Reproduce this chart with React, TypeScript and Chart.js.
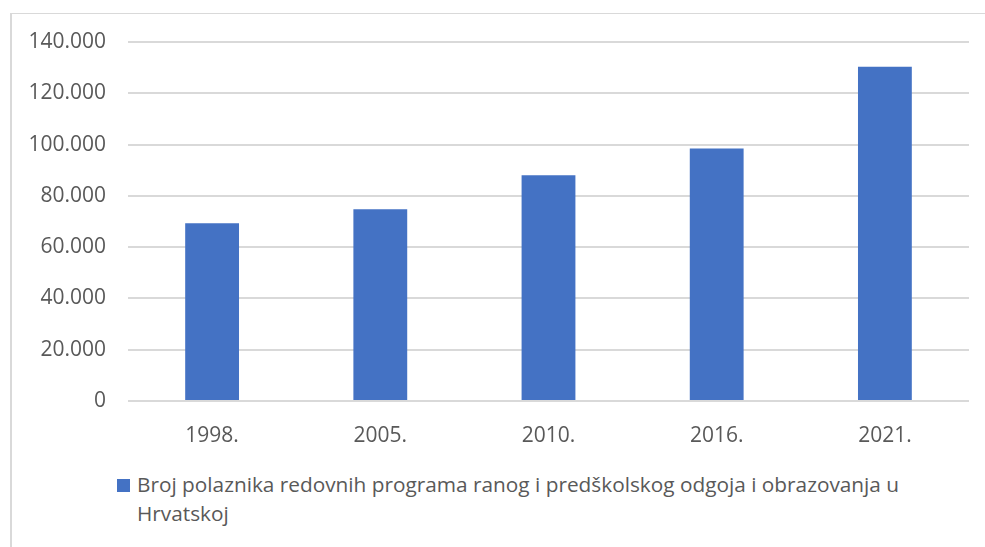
import React, { useEffect, useRef } from "react";
import { Chart, registerables } from "chart.js";

Chart.register(...registerables);

const categories = ["1998.", "2005.", "2010.", "2016.", "2021."];
const seriesValues = [69300, 74800, 88000, 98500, 130300];
const seriesLabel =
  "Broj polaznika redovnih programa ranog i predškolskog odgoja i obrazovanja u Hrvatskoj";
const yTickMax = 140000;
const yTickStep = 20000;

const FONT = "'Open Sans', sans-serif";
const TEXT = "#595959";
const BAR = "#4472C4";

function formatThousands(v: number): string {
  return v === 0 ? "0" : v.toLocaleString("de-DE");
}

export default function App() {
  const ref = useRef<HTMLCanvasElement | null>(null);

  useEffect(() => {
    if (!ref.current) return;
    const chart = new Chart(ref.current, {
      type: "bar",
      data: {
        labels: categories,
        datasets: [
          {
            label: seriesLabel,
            data: seriesValues,
            backgroundColor: BAR,
            borderWidth: 0,
            barPercentage: 0.32,
            categoryPercentage: 1,
          },
        ],
      },
      options: {
        animation: false,
        responsive: false,
        maintainAspectRatio: false,
        layout: { padding: { top: 28, right: 16, bottom: 0, left: 0 } },
        plugins: {
          legend: { display: false },
          tooltip: { enabled: false },
        },
        scales: {
          x: {
            grid: { display: false, drawTicks: false },
            border: { display: false },
            ticks: {
              color: TEXT,
              font: { family: FONT, size: 21 },
              padding: 22,
              maxRotation: 0,
            },
            afterFit: (s: any) => {
              s.height = 59;
              s.paddingLeft = 0;
              s.paddingRight = 0;
            },
          },
          y: {
            min: 0,
            max: yTickMax,
            grid: { color: "#d9d9d9", lineWidth: 2, drawTicks: false },
            border: { display: false },
            ticks: {
              stepSize: yTickStep,
              color: TEXT,
              font: { family: FONT, size: 21 },
              padding: 22,
              callback: (v: any) => formatThousands(Number(v)),
            },
            afterFit: (s: any) => {
              s.width = 117;
              s.paddingTop = 0;
              s.paddingBottom = 0;
            },
          },
        },
      },
    });
    return () => chart.destroy();
  }, []);

  return (
    <div
      style={{
        position: "fixed",
        left: 0,
        top: 0,
        width: 985,
        height: 547,
        background: "#fff",
        overflow: "hidden",
      }}
    >
      <div
        style={{
          position: "absolute",
          left: 10,
          top: 13,
          width: 975,
          height: 534,
          borderTop: "1.5px solid #d9d9d9",
          borderLeft: "2px solid #d9d9d9",
          boxSizing: "border-box",
        }}
      />
      <canvas
        ref={ref}
        width={974}
        height={446}
        style={{ position: "absolute", left: 11, top: 14, width: 974, height: 446 }}
      />
      <div
        style={{
          position: "absolute",
          left: 117,
          top: 470,
          width: 820,
          fontFamily: FONT,
          fontSize: 20.8,
          lineHeight: "29px",
          color: TEXT,
          display: "flex",
          alignItems: "flex-start",
        }}
      >
        <span
          style={{
            display: "inline-block",
            width: 13,
            height: 13,
            background: BAR,
            marginTop: 9,
            marginRight: 7,
            flex: "0 0 auto",
          }}
        />
        <span>{seriesLabel}</span>
      </div>
    </div>
  );
}
